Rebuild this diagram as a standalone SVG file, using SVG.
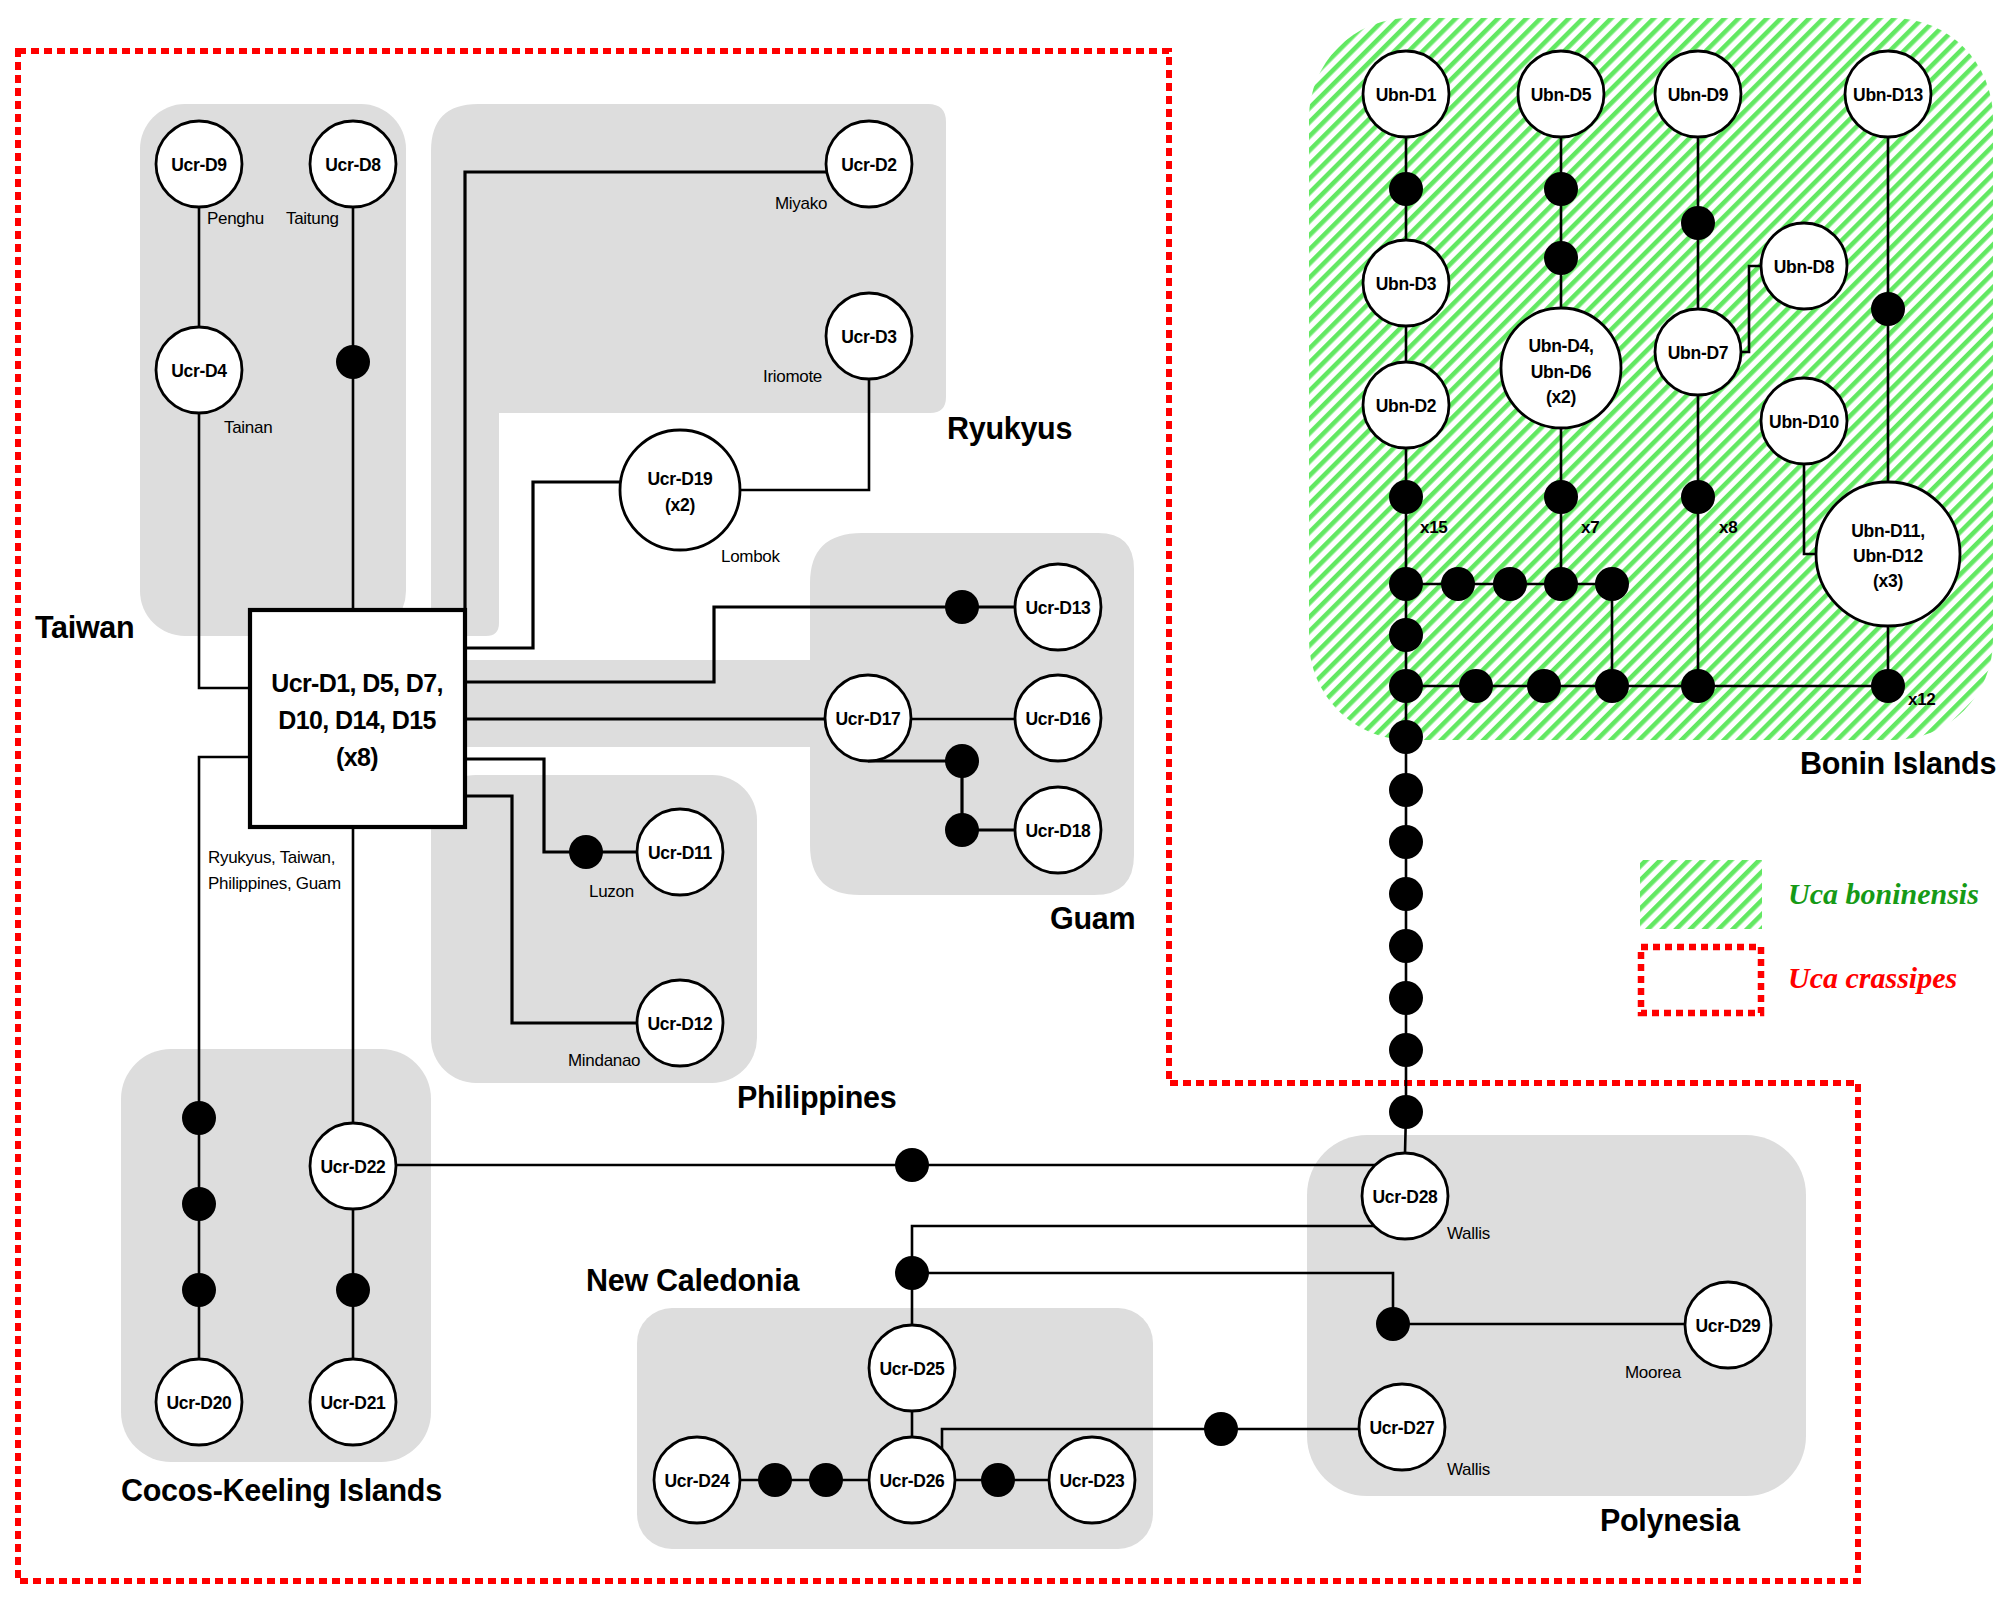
<svg xmlns="http://www.w3.org/2000/svg" width="2008" height="1598" viewBox="0 0 2008 1598">
<defs>
<pattern id="hatch" patternUnits="userSpaceOnUse" width="10" height="10" patternTransform="rotate(45)">
<rect x="0" y="0" width="10" height="10" fill="#ffffff"/>
<rect x="0" y="0" width="4.6" height="10" fill="#62e862"/>
</pattern>
<style>
.grp{fill:#dddddd;stroke:none}
.node circle{fill:#ffffff;stroke:#000;stroke-width:2.8}
.dot{fill:#000}
.ln{fill:none;stroke:#000;stroke-width:2.6}
.lnb{fill:none;stroke:#000;stroke-width:3.2}
.nl{font-family:"Liberation Sans",Arial,sans-serif;font-weight:bold;font-size:17.5px;text-anchor:middle;letter-spacing:-0.3px}
.bx{font-family:"Liberation Sans",Arial,sans-serif;font-weight:bold;font-size:25px;text-anchor:middle;letter-spacing:-0.6px}
.reg{font-family:"Liberation Sans",Arial,sans-serif;font-weight:bold;font-size:30.5px;letter-spacing:-0.3px}
.loc{font-family:"Liberation Sans",Arial,sans-serif;font-size:17px;letter-spacing:-0.3px}
.cnt{font-family:"Liberation Sans",Arial,sans-serif;font-weight:bold;font-size:17px;letter-spacing:-0.3px}
.leg{font-family:"Liberation Serif","Times New Roman",serif;font-weight:bold;font-style:italic;font-size:30px}
.bound{fill:none;stroke:#ff0000;stroke-width:6;stroke-dasharray:8 5}
</style>
</defs>
<rect x="0" y="0" width="2008" height="1598" fill="#ffffff"/>

<!-- Uca crassipes boundary -->
<path class="bound" d="M18,51 H1169 V1083 H1858 V1581 H18 Z"/>

<!-- Bonin hatch region -->
<rect x="1309" y="18" width="684" height="722" rx="100" ry="100" fill="url(#hatch)"/>

<!-- Region groups -->
<g id="groups">
<rect id="grp-taiwan" class="grp" x="140" y="104" width="266" height="532" rx="45"/>
<path id="grp-ryukyus" class="grp" d="M478,104 H928 Q946,104 946,122 V397 Q946,413 930,413 H499 V623 Q499,636 486,636 H444 Q431,636 431,623 V151 Q431,104 478,104 Z"/>
<path id="grp-guam" class="grp" d="M862,533 H1098 Q1134,533 1134,569 V855 Q1134,895 1094,895 H860 Q810,895 810,845 V747 H443 Q431,747 431,735 V672 Q431,660 443,660 H810 V583 Q810,533 862,533 Z"/>
<rect id="grp-philippines" class="grp" x="431" y="775" width="326" height="308" rx="45"/>
<rect id="grp-cocos" class="grp" x="121" y="1049" width="310" height="413" rx="50"/>
<rect id="grp-newcal" class="grp" x="637" y="1308" width="516" height="241" rx="35"/>
<rect id="grp-polynesia" class="grp" x="1307" y="1135" width="499" height="361" rx="60"/>
</g>

<!-- Connectors -->
<g id="connectors">
<path class="ln" d="M199,207 V327"/>
<path class="ln" d="M199,413 V688 H250"/>
<path class="ln" d="M353,207 V610"/>
<path class="lnb" d="M827,172 H465 V610"/>
<path class="ln" d="M869,379 V490 H740"/>
<path class="lnb" d="M620,482 H533 V648 H465"/>
<path class="lnb" d="M465,682 H714 V607 H1015"/>
<path class="lnb" d="M465,719 H825"/>
<path class="ln" d="M911,719 H1015"/>
<path class="lnb" d="M868,761 H962 V830 H1015"/>
<path class="lnb" d="M465,759 H544 V852 H637"/>
<path class="lnb" d="M465,796 H512 V1023 H637"/>
<path class="ln" d="M250,757 H199 V1359"/>
<path class="ln" d="M353,827 V1123"/>
<path class="ln" d="M353,1209 V1359"/>
<path class="ln" d="M396,1165 H1375"/>
<path class="ln" d="M1374,1226 H912 V1324"/>
<path class="ln" d="M912,1273 H1393 V1324 H1685"/>
<path class="ln" d="M912,1411 V1437"/>
<path class="ln" d="M740,1480 H869"/>
<path class="ln" d="M955,1480 H1049"/>
<path class="ln" d="M942,1449 V1429 H1359"/>
<path class="ln" d="M1406,137 V240"/>
<path class="ln" d="M1406,326 V362"/>
<path class="ln" d="M1406,448 V1112 L1405,1153"/>
<path class="ln" d="M1561,137 V308"/>
<path class="ln" d="M1561,428 V584"/>
<path class="ln" d="M1406,584 H1612 V686"/>
<path class="ln" d="M1406,686 H1888"/>
<path class="ln" d="M1698,137 V309"/>
<path class="ln" d="M1698,395 V686"/>
<path class="ln" d="M1761,266 H1749 V352 H1741"/>
<path class="ln" d="M1804,464 V554 H1816"/>
<path class="ln" d="M1888,137 V482"/>
<path class="ln" d="M1888,626 V686"/>
</g>

<!-- Intermediate (missing) haplotype dots -->
<g id="dots" class="dot">
<circle cx="353" cy="362" r="17"/>
<circle cx="962" cy="607" r="17"/>
<circle cx="962" cy="761" r="17"/>
<circle cx="962" cy="830" r="17"/>
<circle cx="586" cy="852" r="17"/>
<circle cx="199" cy="1118" r="17"/>
<circle cx="199" cy="1204" r="17"/>
<circle cx="199" cy="1290" r="17"/>
<circle cx="353" cy="1290" r="17"/>
<circle cx="912" cy="1165" r="17"/>
<circle cx="912" cy="1273" r="17"/>
<circle cx="775" cy="1480" r="17"/>
<circle cx="826" cy="1480" r="17"/>
<circle cx="998" cy="1480" r="17"/>
<circle cx="1221" cy="1429" r="17"/>
<circle cx="1393" cy="1324" r="17"/>
<circle cx="1406" cy="189" r="17"/>
<circle cx="1561" cy="189" r="17"/>
<circle cx="1561" cy="258" r="17"/>
<circle cx="1698" cy="223" r="17"/>
<circle cx="1888" cy="309" r="17"/>
<circle cx="1406" cy="497" r="17"/>
<circle cx="1561" cy="497" r="17"/>
<circle cx="1698" cy="497" r="17"/>
<circle cx="1406" cy="584" r="17"/>
<circle cx="1458" cy="584" r="17"/>
<circle cx="1510" cy="584" r="17"/>
<circle cx="1561" cy="584" r="17"/>
<circle cx="1612" cy="584" r="17"/>
<circle cx="1406" cy="635" r="17"/>
<circle cx="1406" cy="686" r="17"/>
<circle cx="1476" cy="686" r="17"/>
<circle cx="1544" cy="686" r="17"/>
<circle cx="1612" cy="686" r="17"/>
<circle cx="1698" cy="686" r="17"/>
<circle cx="1888" cy="686" r="17"/>
<circle cx="1406" cy="737" r="17"/>
<circle cx="1406" cy="790" r="17"/>
<circle cx="1406" cy="842" r="17"/>
<circle cx="1406" cy="894" r="17"/>
<circle cx="1406" cy="946" r="17"/>
<circle cx="1406" cy="998" r="17"/>
<circle cx="1406" cy="1050" r="17"/>
<circle cx="1406" cy="1112" r="17"/>
</g>

<!-- Central haplotype box -->
<g id="node-ucr-d1" class="node">
<rect x="250" y="610" width="215" height="217" fill="#ffffff" stroke="#000" stroke-width="4.2"/>
<text class="bx" x="357" y="692">Ucr-D1, D5, D7,</text>
<text class="bx" x="357" y="729">D10, D14, D15</text>
<text class="bx" x="357" y="766">(x8)</text>
</g>

<!-- Ucr nodes -->
<g id="node-ucr-d9" class="node"><circle cx="199" cy="164" r="43"/><text class="nl" x="199" y="170.5">Ucr-D9</text></g>
<g id="node-ucr-d8" class="node"><circle cx="353" cy="164" r="43"/><text class="nl" x="353" y="170.5">Ucr-D8</text></g>
<g id="node-ucr-d4" class="node"><circle cx="199" cy="370" r="43"/><text class="nl" x="199" y="376.5">Ucr-D4</text></g>
<g id="node-ucr-d2" class="node"><circle cx="869" cy="164" r="43"/><text class="nl" x="869" y="170.5">Ucr-D2</text></g>
<g id="node-ucr-d3" class="node"><circle cx="869" cy="336" r="43"/><text class="nl" x="869" y="342.5">Ucr-D3</text></g>
<g id="node-ucr-d19" class="node"><circle cx="680" cy="490" r="60"/><text class="nl" x="680" y="485">Ucr-D19</text><text class="nl" x="680" y="511">(x2)</text></g>
<g id="node-ucr-d13" class="node"><circle cx="1058" cy="607" r="43"/><text class="nl" x="1058" y="613.5">Ucr-D13</text></g>
<g id="node-ucr-d17" class="node"><circle cx="868" cy="718" r="43"/><text class="nl" x="868" y="724.5">Ucr-D17</text></g>
<g id="node-ucr-d16" class="node"><circle cx="1058" cy="718" r="43"/><text class="nl" x="1058" y="724.5">Ucr-D16</text></g>
<g id="node-ucr-d18" class="node"><circle cx="1058" cy="830" r="43"/><text class="nl" x="1058" y="836.5">Ucr-D18</text></g>
<g id="node-ucr-d11" class="node"><circle cx="680" cy="852" r="43"/><text class="nl" x="680" y="858.5">Ucr-D11</text></g>
<g id="node-ucr-d12" class="node"><circle cx="680" cy="1023" r="43"/><text class="nl" x="680" y="1029.5">Ucr-D12</text></g>
<g id="node-ucr-d22" class="node"><circle cx="353" cy="1166" r="43"/><text class="nl" x="353" y="1172.5">Ucr-D22</text></g>
<g id="node-ucr-d20" class="node"><circle cx="199" cy="1402" r="43"/><text class="nl" x="199" y="1408.5">Ucr-D20</text></g>
<g id="node-ucr-d21" class="node"><circle cx="353" cy="1402" r="43"/><text class="nl" x="353" y="1408.5">Ucr-D21</text></g>
<g id="node-ucr-d25" class="node"><circle cx="912" cy="1368" r="43"/><text class="nl" x="912" y="1374.5">Ucr-D25</text></g>
<g id="node-ucr-d24" class="node"><circle cx="697" cy="1480" r="43"/><text class="nl" x="697" y="1486.5">Ucr-D24</text></g>
<g id="node-ucr-d26" class="node"><circle cx="912" cy="1480" r="43"/><text class="nl" x="912" y="1486.5">Ucr-D26</text></g>
<g id="node-ucr-d23" class="node"><circle cx="1092" cy="1480" r="43"/><text class="nl" x="1092" y="1486.5">Ucr-D23</text></g>
<g id="node-ucr-d28" class="node"><circle cx="1405" cy="1196" r="43"/><text class="nl" x="1405" y="1202.5">Ucr-D28</text></g>
<g id="node-ucr-d29" class="node"><circle cx="1728" cy="1325" r="43"/><text class="nl" x="1728" y="1331.5">Ucr-D29</text></g>
<g id="node-ucr-d27" class="node"><circle cx="1402" cy="1427" r="43"/><text class="nl" x="1402" y="1433.5">Ucr-D27</text></g>

<!-- Ubn nodes -->
<g id="node-ubn-d1" class="node"><circle cx="1406" cy="94" r="43"/><text class="nl" x="1406" y="100.5">Ubn-D1</text></g>
<g id="node-ubn-d5" class="node"><circle cx="1561" cy="94" r="43"/><text class="nl" x="1561" y="100.5">Ubn-D5</text></g>
<g id="node-ubn-d9" class="node"><circle cx="1698" cy="94" r="43"/><text class="nl" x="1698" y="100.5">Ubn-D9</text></g>
<g id="node-ubn-d13" class="node"><circle cx="1888" cy="94" r="43"/><text class="nl" x="1888" y="100.5">Ubn-D13</text></g>
<g id="node-ubn-d3" class="node"><circle cx="1406" cy="283" r="43"/><text class="nl" x="1406" y="289.5">Ubn-D3</text></g>
<g id="node-ubn-d2" class="node"><circle cx="1406" cy="405" r="43"/><text class="nl" x="1406" y="411.5">Ubn-D2</text></g>
<g id="node-ubn-d4" class="node"><circle cx="1561" cy="368" r="60"/><text class="nl" x="1561" y="352">Ubn-D4,</text><text class="nl" x="1561" y="378">Ubn-D6</text><text class="nl" x="1561" y="403">(x2)</text></g>
<g id="node-ubn-d8" class="node"><circle cx="1804" cy="266" r="43"/><text class="nl" x="1804" y="272.5">Ubn-D8</text></g>
<g id="node-ubn-d7" class="node"><circle cx="1698" cy="352" r="43"/><text class="nl" x="1698" y="358.5">Ubn-D7</text></g>
<g id="node-ubn-d10" class="node"><circle cx="1804" cy="421" r="43"/><text class="nl" x="1804" y="427.5">Ubn-D10</text></g>
<g id="node-ubn-d11" class="node"><circle cx="1888" cy="554" r="72"/><text class="nl" x="1888" y="537">Ubn-D11,</text><text class="nl" x="1888" y="562">Ubn-D12</text><text class="nl" x="1888" y="587">(x3)</text></g>

<!-- Locality labels -->
<g id="localities">
<text class="loc" x="207" y="224">Penghu</text>
<text class="loc" x="286" y="224">Taitung</text>
<text class="loc" x="224" y="433">Tainan</text>
<text class="loc" x="775" y="209">Miyako</text>
<text class="loc" x="763" y="382">Iriomote</text>
<text class="loc" x="721" y="562">Lombok</text>
<text class="loc" x="589" y="897">Luzon</text>
<text class="loc" x="568" y="1066">Mindanao</text>
<text class="loc" x="208" y="863">Ryukyus, Taiwan,</text>
<text class="loc" x="208" y="889">Philippines, Guam</text>
<text class="loc" x="1447" y="1239">Wallis</text>
<text class="loc" x="1625" y="1378">Moorea</text>
<text class="loc" x="1447" y="1475">Wallis</text>
<text class="cnt" x="1420" y="533">x15</text>
<text class="cnt" x="1581" y="533">x7</text>
<text class="cnt" x="1719" y="533">x8</text>
<text class="cnt" x="1908" y="705">x12</text>
</g>

<!-- Region labels -->
<g id="region-labels">
<text class="reg" x="35" y="638">Taiwan</text>
<text class="reg" x="947" y="439">Ryukyus</text>
<text class="reg" x="1050" y="929">Guam</text>
<text class="reg" x="737" y="1108">Philippines</text>
<text class="reg" x="1800" y="774">Bonin Islands</text>
<text class="reg" x="1600" y="1531">Polynesia</text>
<text class="reg" x="586" y="1291">New Caledonia</text>
<text class="reg" x="121" y="1501">Cocos-Keeling Islands</text>
</g>

<!-- Legend -->
<g id="legend">
<rect x="1640" y="860" width="122" height="69" fill="url(#hatch)"/>
<rect x="1641" y="947" width="120" height="66" fill="none" stroke="#ff0000" stroke-width="6.5" stroke-dasharray="7 5"/>
<text class="leg" x="1788" y="904" fill="#169a16">Uca boninensis</text>
<text class="leg" x="1788" y="988" fill="#ff0000">Uca crassipes</text>
</g>
</svg>
